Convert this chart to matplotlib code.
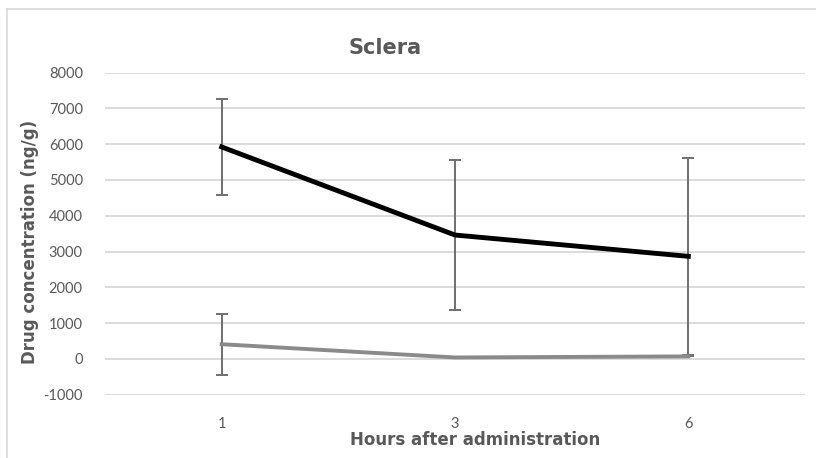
import matplotlib.pyplot as plt
from matplotlib.lines import Line2D

# Sampling times (h) and sclera concentrations (ng/g)
hours = ['1', '3', '6']
conc_a = [5920, 3460, 2865]
err_a = [1340, 2105, 2750]
conc_b = [410, 40, 70]
err_b = [850, 0, 0]
y_ticks = [-1000, 0, 1000, 2000, 3000, 4000, 5000, 6000, 7000, 8000]

txt = '#595959'

fig = plt.figure(figsize=(8.16, 4.58), dpi=100)
ax = fig.add_axes([105 / 816, 1 - 394.7 / 458, 700 / 816, (394.7 - 72.5) / 458])

x = list(range(len(hours)))
ax.errorbar(x, conc_a, yerr=err_a, color='black', lw=3.5, ecolor='#6f6f6f',
            elinewidth=1.4, capsize=4, capthick=1.4, zorder=3)
ax.errorbar(x, conc_b, yerr=err_b, color='#8a8a8a', lw=2.8, ecolor='#6f6f6f',
            elinewidth=1.4, capsize=4, capthick=1.4, zorder=3)

ax.set_xlim(-0.5, len(hours) - 0.5)
ax.set_ylim(-1000, 8000)
ax.set_yticks(y_ticks)
ax.set_yticklabels([str(v) for v in y_ticks])
ax.set_xticks(x)
ax.set_xticklabels(hours)
ax.yaxis.grid(True, color='#d9d9d9', lw=1.3)
ax.set_axisbelow(True)
for s in ax.spines.values():
    s.set_visible(False)
ax.tick_params(length=0, colors=txt, labelsize=10.5)
ax.tick_params(axis='y', pad=16)
ax.tick_params(axis='x', pad=16)
for lab in ax.get_xticklabels() + ax.get_yticklabels():
    lab.set_fontfamily('Lato')

fig.text(385 / 816, 1 - 48 / 458, 'Sclera', ha='center', va='center',
         fontsize=15, fontweight='bold', color=txt, family='DejaVu Sans')
fig.text(475 / 816, 1 - 440 / 458, 'Hours after administration', ha='center',
         va='center', fontsize=12, fontweight='bold', color=txt,
         family='DejaVu Sans')
fig.text(30 / 816, 1 - 242 / 458, 'Drug concentration (ng/g)', ha='center',
         va='center', rotation=90, fontsize=12, fontweight='bold', color=txt,
         family='DejaVu Sans')

# light chart-area border
fig.add_artist(Line2D([7 / 816, 7 / 816], [0, 1 - 9 / 458],
                      transform=fig.transFigure, color='#d9d9d9', lw=1.2))
fig.add_artist(Line2D([7 / 816, 1], [1 - 9 / 458, 1 - 9 / 458],
                      transform=fig.transFigure, color='#d9d9d9', lw=1.2))

fig.savefig('out.png', dpi=100)
